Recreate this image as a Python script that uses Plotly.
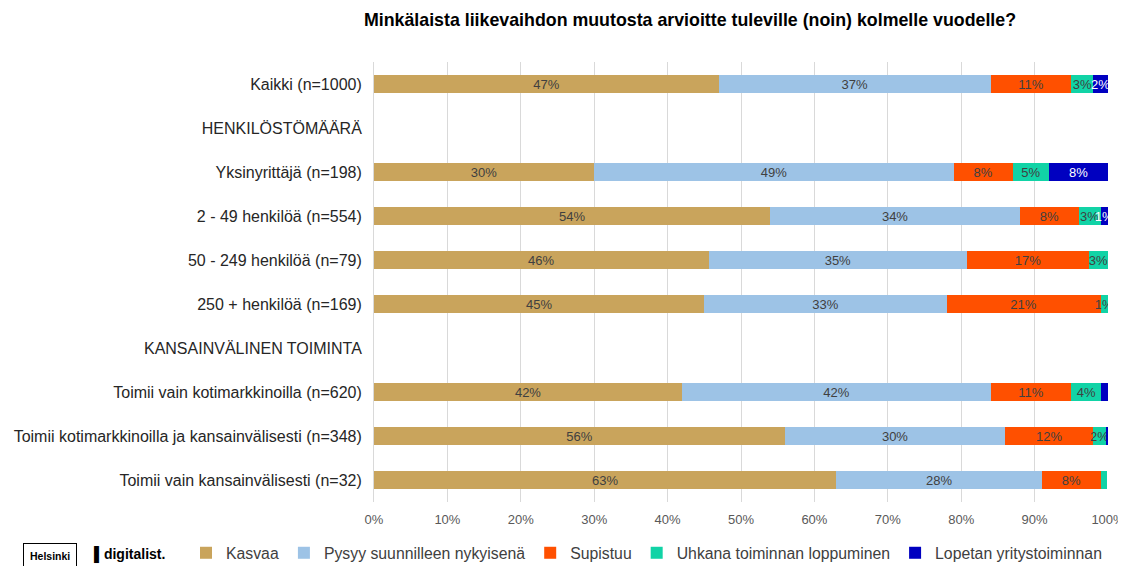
import plotly.graph_objects as go

FONT = "Liberation Sans, Arial, sans-serif"

categories = [
    "Kaikki (n=1000)",
    "HENKILÖSTÖMÄÄRÄ",
    "Yksinyrittäjä (n=198)",
    "2 - 49 henkilöä (n=554)",
    "50 - 249 henkilöä (n=79)",
    "250 + henkilöä (n=169)",
    "KANSAINVÄLINEN TOIMINTA",
    "Toimii vain kotimarkkinoilla (n=620)",
    "Toimii kotimarkkinoilla ja kansainvälisesti (n=348)",
    "Toimii vain kansainvälisesti (n=32)",
]

kasvaa = [47, None, 30, 54, 45.6, 45, None, 42, 56, 63]
pysyy = [37, None, 49, 34, 35.2, 33, None, 42, 30, 28]
supistuu = [11, None, 8, 8, 16.6, 21, None, 11, 12, 8]
uhkana = [3, None, 5, 3, 2.6, 1, None, 4.1, 1.7, 0.9]
lopetan = [2, None, 8, 1, 0, 0, None, 0.9, 0.3, 0]

x_ticks = [0, 10, 20, 30, 40, 50, 60, 70, 80, 90, 100]

series = [
    ("Kasvaa", kasvaa, "#C9A45C", "#404040"),
    ("Pysyy suunnilleen nykyisenä", pysyy, "#9DC3E6", "#404040"),
    ("Supistuu", supistuu, "#FF5000", "#404040"),
    ("Uhkana toiminnan loppuminen", uhkana, "#11D3A6", "#404040"),
    ("Lopetan yritystoiminnan", lopetan, "#0000C0", "#FFFFFF"),
]


def label(v):
    if v is None or v < 1:
        return ""
    return f"{int(v + 0.5)}%"


fig = go.Figure()
for name, vals, color, tcolor in series:
    fig.add_trace(go.Bar(
        y=categories, x=vals, name=name, orientation="h",
        marker=dict(color=color, line=dict(width=0)),
        text=[label(v) for v in vals],
        textposition="inside", insidetextanchor="middle", textangle=0,
        textfont=dict(color=tcolor, size=13, family=FONT),
        width=0.41,
    ))

# page body has an 8px margin, so the figure is drawn 8px smaller
fig.update_layout(
    barmode="stack",
    width=1118, height=558,
    plot_bgcolor="white", paper_bgcolor="white",
    margin=dict(l=366, r=18, t=54, b=64, autoexpand=False),
    font=dict(family=FONT, color="#404040", size=13),
    uniformtext=dict(minsize=13, mode="show"),
    title=dict(
        text="<b>Minkälaista liikevaihdon muutosta arvioitte tuleville (noin) kolmelle vuodelle?</b>",
        x=682 / 1118, xanchor="center", y=0.9785, yanchor="middle",
        font=dict(size=17.8, color="#000000", family=FONT),
    ),
    xaxis=dict(
        range=[0, 100], tickvals=x_ticks, ticktext=[f"{t}%" for t in x_ticks],
        showgrid=True, gridcolor="#D9D9D9", gridwidth=1,
        zeroline=False, tickfont=dict(size=13, color="#595959"), ticks="",
        automargin=False, ticklabelstandoff=8,
    ),
    yaxis=dict(
        autorange="reversed", showgrid=False, ticks="", ticklen=0,
        tickfont=dict(size=16, color="#262626"), showline=True, linecolor="#D9D9D9",
        automargin=False, ticklabelstandoff=8,
    ),
    legend=dict(
        orientation="h", x=(186 - 374) / 734, xanchor="left", y=(494 - 545) / 440, yanchor="middle",
        font=dict(size=15.8, color="#404040", family=FONT), traceorder="normal",
        itemwidth=30,
    ),
)

fig.add_annotation(
    text="<b>Helsinki</b>", xref="paper", yref="paper", x=(42 - 366) / 734, y=(494 - 548) / 440,
    xanchor="center", yanchor="middle",
    showarrow=False, font=dict(size=10.5, color="#000000", family=FONT),
    bordercolor="#000000", borderwidth=1, borderpad=6, bgcolor="white",
)
fig.add_annotation(
    text="<b>▌digitalist.</b>", xref="paper", yref="paper", x=(122 - 366) / 734, y=(494 - 547) / 440,
    xanchor="center", yanchor="middle",
    showarrow=False, font=dict(size=14, color="#000000", family=FONT),
)

fig.write_html("out.html")
